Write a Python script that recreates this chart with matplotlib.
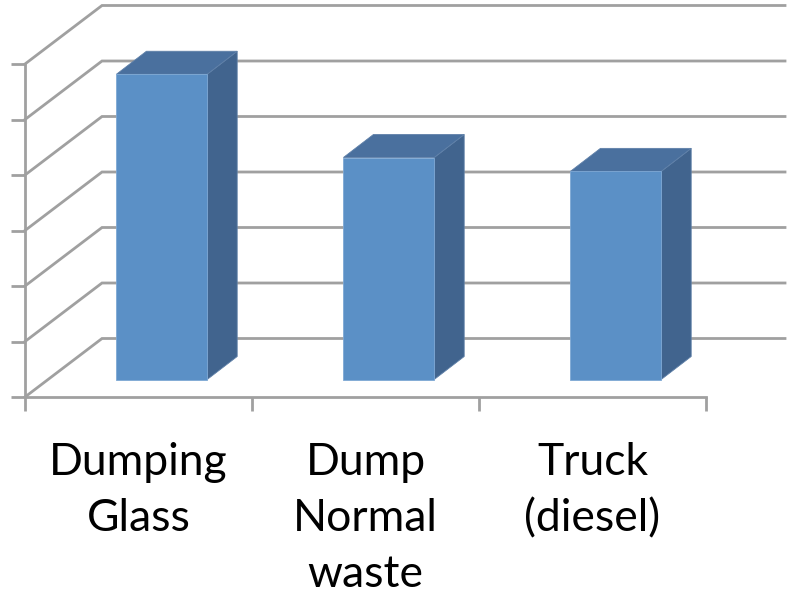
import matplotlib
matplotlib.use('Agg')
import matplotlib.pyplot as plt
from matplotlib.patches import Polygon

labels = ['Dumping\nGlass', 'Dump\nNormal\nwaste', 'Truck\n(diesel)']
values = [5.5, 4.0, 3.75]
y_ticks = [0, 1, 2, 3, 4, 5, 6]

# figure size in px, and where the front of the plot sits
W, H = 788, 596
left, right, top, bottom = 25, 706, 64, 397

fig = plt.figure(figsize=(W / 100, H / 100), dpi=100)
ax = fig.add_axes([left / W, (H - bottom) / H, (right - left) / W, (bottom - top) / H])
ax.set_xlim(0, 3)
ax.set_ylim(0, 6)

# px to data units
ux = (right - left) / 3
uy = (bottom - top) / 6

grid_col = '#a0a0a0'
line_w = 2.0

# back wall gridlines with the diagonal going back from the axis
wall_dx = 77 / ux
wall_dy = 58.5 / uy
wall_end = (785 - left) / ux
for v in y_ticks:
    ax.plot([0, wall_dx, wall_end], [v, v + wall_dy, v + wall_dy], color=grid_col,
            lw=line_w, clip_on=False, zorder=1, solid_joinstyle='miter')

# 3d bars
bar_w = 0.4
shift_x = 23.3 / ux
shift_y = 17.5 / uy
depth_x = 30 / ux
depth_y = 23 / uy
for i, val in enumerate(values):
    x0 = i + 0.5 + shift_x - bar_w / 2
    x1 = x0 + bar_w
    y0 = shift_y
    y1 = shift_y + val
    front = [(x0, y0), (x1, y0), (x1, y1), (x0, y1)]
    cap = [(x0, y1), (x1, y1), (x1 + depth_x, y1 + depth_y), (x0 + depth_x, y1 + depth_y)]
    side = [(x1, y0), (x1 + depth_x, y0 + depth_y), (x1 + depth_x, y1 + depth_y), (x1, y1)]
    ax.add_patch(Polygon(side, closed=True, fc='#41648e', ec='#5f80a8', lw=0.6, clip_on=False, zorder=3))
    ax.add_patch(Polygon(cap, closed=True, fc='#4a709e', ec='#5f80a8', lw=0.6, clip_on=False, zorder=3))
    ax.add_patch(Polygon(front, closed=True, fc='#5b90c6', ec='#7ea8d4', lw=0.6, clip_on=False, zorder=4))

# axes
for s in ['top', 'right']:
    ax.spines[s].set_visible(False)
for s in ['left', 'bottom']:
    ax.spines[s].set_color(grid_col)
    ax.spines[s].set_linewidth(line_w)
    ax.spines[s].set_zorder(2)
ax.patch.set_visible(False)
ax.set_yticks(y_ticks)
ax.set_xticks([0, 1, 2, 3])
ax.tick_params(axis='both', color=grid_col, width=line_w, length=10, direction='out',
               labelleft=False, labelbottom=False)

for i, lab in enumerate(labels):
    ax.annotate(lab, xy=(i + 0.5, 0), xytext=(0, -32.5), textcoords='offset points',
                ha='center', va='top', family='Lato', fontsize=32, color='black',
                linespacing=1.46, annotation_clip=False)

fig.savefig('out.png', dpi=100)
